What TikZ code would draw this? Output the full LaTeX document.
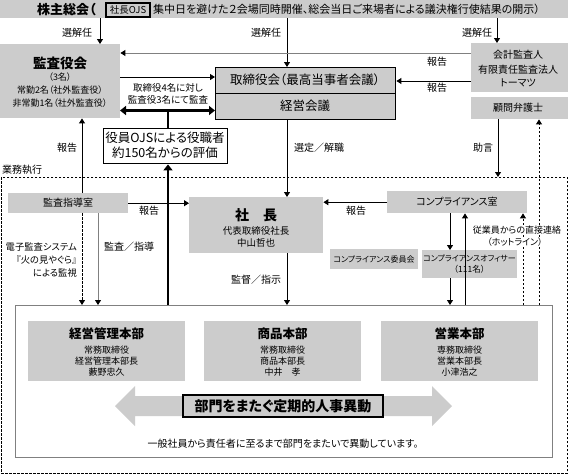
\documentclass[tikz,border=0pt]{standalone}
\usepackage{fontspec}
\setmainfont{Noto Sans CJK JP}[RawFeature=+palt]
\usetikzlibrary{arrows.meta,calc}
\definecolor{gfill}{HTML}{CCCCCC}
\definecolor{gline}{HTML}{808080}
\newcommand{\fs}[1]{\fontsize{#1}{#1}\selectfont}
\begin{document}
\begin{tikzpicture}[x=1pt,y=-1pt,
  gbox/.style={fill=gfill, inner sep=0pt, anchor=north west},
  wbox/.style={draw, line width=1.4pt, inner sep=0pt, anchor=north west},
  t/.style={inner sep=0pt, font=\fs{10}},
  ts/.style={inner sep=0pt, font=\fs{9}},
  arr/.style={-{Triangle[width=6pt,length=5pt]}, line width=0.9pt},
  garr/.style={-{Triangle[width=6pt,length=5pt,color=black]}, line width=0.9pt, draw=gline},
  darr/.style={-{Triangle[width=6pt,length=5pt]}, line width=0.9pt, dash pattern=on 2.5pt off 1.5pt},
  tarr/.style={{Triangle[width=9pt,length=6pt]}-{Triangle[width=9pt,length=6pt]}, line width=2.4pt},
  uarr/.style={-{Triangle[width=9pt,length=6pt]}, line width=2.6pt}
]
\useasboundingbox (0,0) rectangle (568,475);
\fill[white] (0,0) rectangle (568,475);

% banner
\node[gbox, minimum width=568pt, minimum height=18pt] (banner) at (0,0) {};
\node[t, anchor=west, font=\fs{13}\bfseries] (bt1) at (37,9.5) {株主総会（};
\node[draw, line width=1.2pt, fill=gfill, minimum width=44pt, minimum height=14pt, inner sep=0pt, font=\fs{9.5}] (ojs) at (128,10) {社長OJS};
\node[t, anchor=west, font=\fs{11}] (bt2) at (153,9.5) {集中日を避けた２会場同時開催、総会当日ご来場者による議決権行使結果の開示）};

% 監査役会
\node[gbox, minimum width=120pt, minimum height=74pt] (kansa) at (0,44) {};
\node[t, font=\fs{13.5}\bfseries] (kansaT) at (60,63) {監査役会};
\node[ts] (kansa1) at (60,77) {（3名）};
\node[ts] (kansa2) at (60,90) {常勤2名（社外監査役）};
\node[ts] (kansa3) at (60,103) {非常勤1名（社外監査役）};

% 取締役会 / 経営会議
\node[wbox, fill=gfill, minimum width=180pt, minimum height=26pt] (tori) at (215,67) {};
\node[t, font=\fs{12.5}] (toriT) at (305,80) {取締役会（最高当事者会議）};
\node[wbox, fill=gfill, minimum width=180pt, minimum height=26pt] (keiei) at (215,93) {};
\node[t, font=\fs{12.5}] (keieiT) at (305,106) {経営会議};

% 会計監査人 / 顧問弁護士
\node[gbox, minimum width=97pt, minimum height=49pt] (kaikei) at (471,43) {};
\node[t] (kaikei1) at (518,55) {会計監査人};
\node[t] (kaikei2) at (518,69.5) {有限責任監査法人};
\node[t] (kaikei3) at (518,83) {トーマツ};
\node[gbox, minimum width=97pt, minimum height=22pt] (komon) at (471,97) {};
\node[t] (komonT) at (518,108) {顧問弁護士};

% 役員OJS
\node[wbox, fill=white, minimum width=124pt, minimum height=35pt] (ojsbox) at (103,128) {};
\node[t, font=\fs{12.5}] (ojs1) at (165,138) {役員OJSによる役職者};
\node[t, font=\fs{12.5}] (ojs2) at (165,153) {約150名からの評価};

% 業務執行 frame
\node[draw, line width=0.9pt, dash pattern=on 2.5pt off 1.5pt, inner sep=0pt, anchor=north west, minimum width=566pt, minimum height=296pt] (gyomu) at (1,177) {};
\node[t, anchor=west] (gyomuT) at (2,170) {業務執行};

% 監査指導室
\node[gbox, minimum width=120pt, minimum height=20pt] (shido) at (8,193) {};
\node[t] (shidoT) at (68,203) {監査指導室};

% 社長
\node[gbox, minimum width=134pt, minimum height=56pt] (shacho) at (189,197) {};
\node[t, font=\fs{14}\bfseries] (shachoT) at (256,215) {社　長};
\node[t, font=\fs{9.5}] (shacho1) at (256,231) {代表取締役社長};
\node[t, font=\fs{9.5}] (shacho2) at (256,243) {中山哲也};

% コンプライアンス
\node[gbox, minimum width=140pt, minimum height=22pt] (comp) at (387,191) {};
\node[t] (compT) at (457,202) {コンプライアンス室};
\node[gbox, minimum width=88pt, minimum height=20pt] (iinkai) at (330,249) {};
\node[ts, font=\fs{8}] (iinkaiT) at (374,259) {コンプライアンス委員会};
\node[gbox, minimum width=95pt, minimum height=28pt] (officer) at (422,250) {};
\node[ts, font=\fs{8}] (officer1) at (469.5,258) {コンプライアンスオフィサー};
\node[ts, font=\fs{8.5}] (officer2) at (469.5,269.5) {（111名）};

% 部門
\node[draw=gline, line width=1pt, fill=white, inner sep=0pt, anchor=north west, minimum width=537pt, minimum height=152pt] (dept) at (15,305) {};
\node[gbox, minimum width=157pt, minimum height=60pt] (d1) at (28,321) {};
\node[gbox, minimum width=157pt, minimum height=60pt] (d2) at (204,321) {};
\node[gbox, minimum width=157pt, minimum height=60pt] (d3) at (381,321) {};
\node[t, font=\fs{12.5}\bfseries] (d1T) at (106.5,334) {経営管理本部};
\node[ts] (d1a) at (106.5,350.5) {常務取締役};
\node[ts] (d1b) at (106.5,361) {経営管理本部長};
\node[ts] (d1c) at (106.5,372) {藪野忠久};
\node[t, font=\fs{12.5}\bfseries] (d2T) at (282.5,334) {商品本部};
\node[ts] (d2a) at (282.5,350.5) {常務取締役};
\node[ts] (d2b) at (282.5,361) {商品本部長};
\node[ts] (d2c) at (282.5,372) {中井　孝};
\node[t, font=\fs{12.5}\bfseries] (d3T) at (459.5,334) {営業本部};
\node[ts] (d3a) at (459.5,350.5) {専務取締役};
\node[ts] (d3b) at (459.5,361) {営業本部長};
\node[ts] (d3c) at (459.5,372) {小津浩之};

\fill[gfill] (115,406) -- (135,386) -- (135,396) -- (432,396) -- (432,386) -- (452,406)
  -- (432,426) -- (432,416) -- (135,416) -- (135,426) -- cycle;
\node[draw, line width=1.6pt, fill=gfill, minimum width=200pt, minimum height=22pt, inner sep=0pt, font=\fs{14}\bfseries] (ido) at (283,406) {部門をまたぐ定期的人事異動};
\node[t, font=\fs{10}] (ippan) at (283,444) {一般社員から責任者に至るまで部門をまたいで異動しています。};

% connectors from banner
\coordinate (c1) at (100,18);
\coordinate (c2) at (287,18);
\coordinate (c3) at (497,18);
\draw[arr] (c1) -- (c1 |- kansa.north);
\draw[arr] (c2) -- (c2 |- tori.north);
\draw[arr] (c3) -- (c3 |- kaikei.north);
\node[t] (l1) at (77,33) {選解任};
\node[t] (l2) at (266,33) {選解任};
\node[t] (l3) at (477,33) {選解任};

% reports to 監査役会 / 取締役会
\coordinate (c4) at (471,53);
\draw[garr] (c4) -- (c4 -| kansa.east);
\node[t] (l4) at (437,62) {報告};
\coordinate (c9) at (471,81);
\draw[arr] (c9) -- (c9 -| tori.east);
\node[t] (l9) at (437,88) {報告};
\coordinate (c5) at (120,77);
\draw[arr] (c5) -- (c5 -| tori.west);
\coordinate (c6) at (120,110.5);
\draw[tarr] (c6) -- (c6 -| keiei.west);
\node[t, font=\fs{9.5}] (l6a) at (168,88) {取締役4名に対し};
\node[t, font=\fs{9.5}] (l6b) at (168,99.5) {監査役3名にて監査};
\coordinate (c7) at (168,110.5);
\draw[line width=2.6pt] (c7) -- (c7 |- ojsbox.north);
\coordinate (c8) at (168,305);
\draw[uarr] (c8) -- (c8 |- ojsbox.south);

% 顧問弁護士
\coordinate (c10) at (498,119);
\draw[arr] (c10) -- (c10 |- gyomu.north);
\node[t] (l10) at (483,148) {助言};
\coordinate (c11) at (539,305);
\draw[darr] (c11) -- (c11 |- komon.south);

% 選定／解職
\coordinate (c12) at (287,119);
\draw[arr] (c12) -- (c12 |- shacho.north);
\node[t] (l12) at (319,148) {選定／解職};

% 監査指導室
\coordinate (c13) at (82,193);
\draw[arr] (c13) -- (c13 |- kansa.south);
\node[t] (l13) at (67,148) {報告};
\draw[arr] (shido.east) -- (shido.east -| shacho.west);
\node[t] (l14) at (149,211) {報告};
\coordinate (c16) at (82,213);
\draw[darr] (c16) -- (c16 |- dept.north);
\coordinate (c17) at (98,213);
\draw[garr] (c17) -- (c17 |- dept.north);
\node[t, font=\fs{9.3}, anchor=east] (l16a) at (77,247) {電子監査システム};
\node[t, font=\fs{9.3}, anchor=east] (l16b) at (77,260) {『火の見やぐら』};
\node[t, font=\fs{9.3}, anchor=east] (l16c) at (77,272.5) {による監視};
\node[t] (l17) at (129,247) {監査／指導};

% 社長 down
\coordinate (c18) at (287,253);
\draw[arr] (c18) -- (c18 |- dept.north);
\node[t] (l18) at (256,280) {監督／指示};

% compliance
\draw[arr] (comp.west) -- (comp.west -| shacho.east);
\node[t] (l15) at (356,211) {報告};
\coordinate (c19) at (450,213);
\draw[arr] (c19) -- (c19 |- officer.north);
\coordinate (c20) at (450,278);
\draw[arr] (c20) -- (c20 |- dept.north);
\coordinate (c21) at (465,305);
\draw[arr] (c21) -- (c21 |- comp.south);
\coordinate (c22) at (523,305);
\draw[darr] (c22) -- (c22 |- comp.south);
\node[ts, fill=white, inner sep=1pt] (l22a) at (517,230) {従業員からの直接連絡};
\node[ts, fill=white, inner sep=1pt] (l22b) at (515,242) {（ホットライン）};
\end{tikzpicture}
\end{document}
